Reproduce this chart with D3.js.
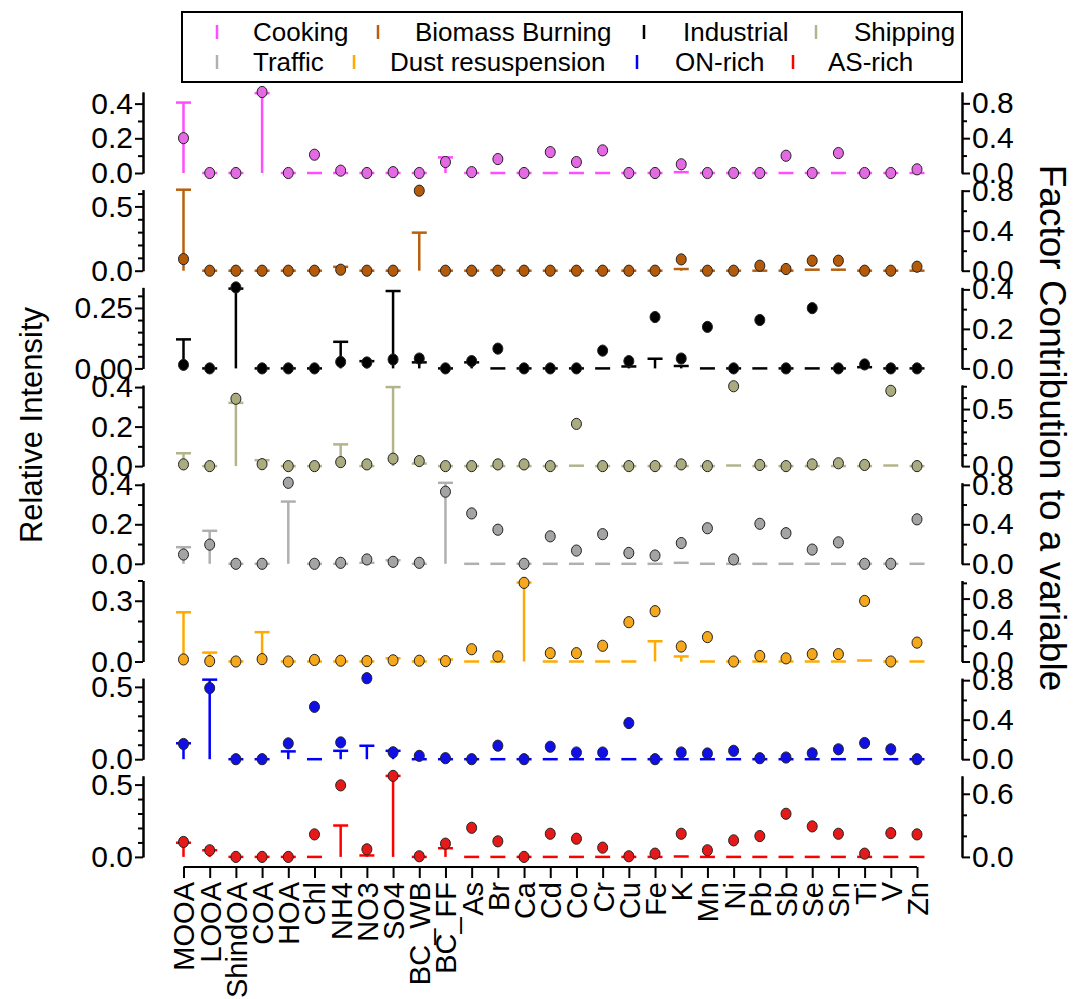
<!DOCTYPE html>
<html>
<head>
<meta charset="utf-8">
<script src="https://cdn.jsdelivr.net/npm/d3@7"></script>
<style>
  body { margin: 0; background: #fff; }
  svg { font-family: "Liberation Sans", Arial, sans-serif; }
</style>
</head>
<body>
<svg id="viz" width="1087" height="999"></svg>
<script>
const categories = ["MOOA","LOOA","ShindOA","COA","HOA","Chl","NH4","NO3","SO4","BC_WB","BC_FF",
  "As","Br","Ca","Cd","Co","Cr","Cu","Fe","K","Mn","Ni","Pb","Sb","Se","Sn","Ti","V","Zn"];
const factorNames = ["Cooking","Biomass Burning","Industrial","Shipping","Traffic","Dust resuspension","ON-rich","AS-rich"];

// relative intensity (left axis, drawn as capped sticks)
const cookingBar  = [0.406,0,0,0.46,0,0,0,0,0,0,0.09,0,0,0,0,0,0,0,0,0.005,0,0,0,0,0,0,0,0,0];
const biomassBar  = [0.63,0,0,0,0,0,0.03,0,0,0.296,0,0,0.005,0,0,0,0,0,0,0.013,0,0,0,0,0.008,0.008,0,0,0];
const industBar   = [0.12,0,0.33,0,0,0,0.11,0.03,0.32,0.025,0,0.025,0,0,0,0,0,0.008,0.04,0.01,0,0,0,0,0,0,0.005,0,0];
const shippingBar = [0.065,0,0.32,0.03,0,0,0.11,0,0.40,0.013,0,0,0,0,0,0.002,0,0,0,0,0,0.003,0,0,0,0,0,0.003,0];
const trafficBar  = [0.084,0.167,0,0,0.315,0,0,0.005,0.018,0,0.41,0,0,0,0,0,0,0,0,0.005,0,0,0,0,0,0,0,0,0];
const dustBar     = [0.243,0.044,0,0.145,0,0,0,0,0.016,0,0.01,0,0,0.39,0,0,0,0,0.10,0.025,0,0,0,0,0,0,0.005,0,0];
const onBar       = [0.11,0.55,0,0,0.054,0,0.058,0.093,0.058,0,0,0,0,0,0,0,0,0,0,0,0,0,0,0,0,0,0,0,0];
const asBar       = [0.098,0.046,0,0,0,0,0.217,0.01,0.56,0,0.06,0,0,0,0,0,0,0,0,0.003,0,0,0,0,0,0,0,0,0];

// factor contribution to a variable (right axis, drawn as dots)
const cookingDot  = [0.40,0,0,0.93,0,0.21,0.027,0,0.01,0,0.126,0.01,0.16,0,0.24,0.126,0.26,0,0,0.10,0,0,0,0.198,0,0.229,0,0,0.042];
const biomassDot  = [0.116,0,0,0,0,0,0.01,0,0,0.80,0,0,0,0,0,0,0,0,0,0.113,0,0,0.05,0.017,0.10,0.10,0,0,0.04];
const industDot   = [0.018,0,0.41,0,0,0,0.033,0.03,0.045,0.05,0,0.037,0.10,0,0,0,0.09,0.037,0.26,0.05,0.21,0,0.245,0,0.305,0,0.02,0,0];
const shippingDot = [0.015,0,0.59,0.017,0,0,0.035,0.015,0.065,0.044,0,0,0.015,0.015,0,0.37,0,0,0,0.015,0,0.70,0.01,0,0.015,0.025,0.01,0.66,0];
const trafficDot  = [0.094,0.194,0,0,0.82,0,0.01,0.044,0.02,0.01,0.73,0.51,0.345,0,0.278,0.134,0.30,0.11,0.084,0.21,0.36,0.044,0.405,0.31,0.144,0.217,0,0,0.45];
const dustDot     = [0.026,0.005,0,0.03,0,0.02,0.01,0.005,0.015,0.01,0.005,0.156,0.064,1.0,0.106,0.106,0.2,0.5,0.64,0.19,0.31,0,0.07,0.04,0.094,0.094,0.77,0,0.24];
const onDot       = [0.154,0.72,0,0,0.16,0.53,0.17,0.82,0.07,0.034,0.01,0,0.137,0,0.126,0.068,0.068,0.366,0,0.068,0.058,0.085,0.01,0.017,0.06,0.10,0.164,0.10,0];
const asDot       = [0.142,0.063,0,0,0,0.214,0.68,0.072,0.77,0.006,0.126,0.277,0.148,0,0.22,0.173,0.088,0.006,0.031,0.22,0.063,0.157,0.198,0.41,0.29,0.22,0.031,0.226,0.214];

const barSeries = [cookingBar, biomassBar, industBar, shippingBar, trafficBar, dustBar, onBar, asBar];
const dotSeries = [cookingDot, biomassDot, industDot, shippingDot, trafficDot, dustDot, onDot, asDot];

// axis extents and ticks per panel
const leftMax  = [0.467, 0.63, 0.335, 0.41, 0.41, 0.40, 0.56, 0.56];
const rightMax = [0.93, 0.81, 0.41, 0.71, 0.82, 1.03, 0.82, 0.77];
const leftMajor  = [[0,0.2,0.4],[0,0.5],[0,0.25],[0,0.2,0.4],[0,0.2,0.4],[0,0.3],[0,0.5],[0,0.5]];
const leftMinor  = [[0.1,0.3],[0.1,0.2,0.3,0.4,0.6],[0.05,0.1,0.15,0.2,0.3],[0.1,0.3],[0.1,0.3],[0.1,0.2,0.4],[0.1,0.2,0.3,0.4],[0.1,0.2,0.3,0.4]];
const rightMajor = [[0,0.4,0.8],[0,0.4,0.8],[0,0.2,0.4],[0,0.5],[0,0.4,0.8],[0,0.4,0.8],[0,0.4,0.8],[0,0.6]];
const rightMinor = [[0.2,0.6],[0.2,0.6],[0.1,0.3],[0.1,0.2,0.3,0.4,0.6,0.7],[0.2,0.6],[0.2,0.6,1.0],[0.2,0.6],[0.2,0.4]];
const leftFormat = [".1f",".1f",".2f",".1f",".1f",".1f",".1f",".1f"];

const lineColors = ["#ff4dff","#b8600f","#000000","#b4b48c","#b0b0b0","#ffaa00","#0000ff","#ff0000"];
const dotColors  = ["#e46ae4","#b35a0b","#000000","#abab80","#a4a4a4","#f5a81c","#1010e6","#e61919"];

const svg = d3.select("#viz");
const xLeft = 143, xRight = 962;
const panelH = 81;
const firstZero = 173, panelStep = 97.7;
const fontTick = 30;

const x = d3.scalePoint().domain(categories).range([183.5, 917]);

function styleAxis(g, fs) {
  g.select(".domain").attr("stroke", "#000").attr("stroke-width", 2);
  g.selectAll(".tick line").attr("stroke", "#000").attr("stroke-width", 2);
  g.selectAll(".tick text").attr("font-size", fs).attr("fill", "#000")
    .attr("font-family", "Liberation Sans, Arial, sans-serif");
}

factorNames.forEach((name, i) => {
  const zero = firstZero + i * panelStep;
  const yL = d3.scaleLinear().domain([0, leftMax[i]]).range([zero, zero - panelH]);
  const yR = d3.scaleLinear().domain([0, rightMax[i]]).range([zero, zero - panelH]);
  const g = svg.append("g");

  // left axis
  g.append("g").attr("transform", `translate(${xLeft},0)`)
    .call(d3.axisLeft(yL).tickValues(leftMinor[i]).tickSize(5).tickSizeOuter(0).tickFormat(""))
    .call(a => styleAxis(a, fontTick));
  g.append("g").attr("transform", `translate(${xLeft},0)`)
    .call(d3.axisLeft(yL).tickValues(leftMajor[i]).tickSize(8).tickSizeOuter(0).tickPadding(2)
      .tickFormat(d3.format(leftFormat[i])))
    .call(a => styleAxis(a, fontTick));

  // right axis
  g.append("g").attr("transform", `translate(${xRight},0)`)
    .call(d3.axisRight(yR).tickValues(rightMinor[i]).tickSize(5).tickSizeOuter(0).tickFormat(""))
    .call(a => styleAxis(a, fontTick));
  g.append("g").attr("transform", `translate(${xRight},0)`)
    .call(d3.axisRight(yR).tickValues(rightMajor[i]).tickSize(8).tickSizeOuter(0).tickPadding(2)
      .tickFormat(d3.format(".1f")))
    .call(a => styleAxis(a, fontTick));

  const bars = barSeries[i];
  const dots = dotSeries[i];

  // sticks with caps
  g.selectAll(".stick").data(bars).enter().append("line")
    .attr("class", "stick")
    .attr("x1", (d, j) => x(categories[j])).attr("x2", (d, j) => x(categories[j]))
    .attr("y1", yL(0)).attr("y2", d => yL(d))
    .attr("stroke", lineColors[i]).attr("stroke-width", 2.5);
  g.selectAll(".cap").data(bars).enter().append("line")
    .attr("class", "cap")
    .attr("x1", (d, j) => x(categories[j]) - 7.5).attr("x2", (d, j) => x(categories[j]) + 7.5)
    .attr("y1", d => yL(d)).attr("y2", d => yL(d))
    .attr("stroke", lineColors[i]).attr("stroke-width", 2.5);

  // dots
  g.selectAll(".dot").data(dots).enter().append("ellipse")
    .attr("class", "dot")
    .attr("cx", (d, j) => x(categories[j]))
    .attr("cy", d => yR(d))
    .attr("rx", 5).attr("ry", 5.6)
    .attr("fill", dotColors[i]).attr("stroke", "#222").attr("stroke-width", 1);
});

// category axis
const xAxisY = 867;
svg.append("g").attr("transform", `translate(0,${xAxisY})`)
  .call(d3.axisBottom(x).tickSize(11).tickSizeOuter(0))
  .call(a => {
    styleAxis(a, 29);
    a.select(".domain").attr("d", `M${x.range()[0]},0H${x.range()[1]}`);
    a.selectAll(".tick text")
      .attr("transform", "rotate(-90)")
      .attr("x", -15).attr("y", 0).attr("dy", "0.36em")
      .style("text-anchor", "end");
  });

// axis titles
svg.append("text")
  .attr("transform", "translate(42,425) rotate(-90)")
  .attr("text-anchor", "middle").attr("font-size", 31)
  .text("Relative Intensity");
svg.append("text")
  .attr("transform", "translate(1040,428) rotate(90)")
  .attr("text-anchor", "middle").attr("font-size", 37)
  .text("Factor Contribution to a variable");

// legend
const legend = svg.append("g");
legend.append("rect")
  .attr("x", 182).attr("y", 12).attr("width", 780).attr("height", 70)
  .attr("fill", "#fff").attr("stroke", "#000").attr("stroke-width", 2);
const legendMarkX = [217, 378, 644, 816, 217, 354, 637, 793];
const legendTextX = [253, 415, 683, 854, 253, 390, 675, 828];
const legendRowY  = [32, 32, 32, 32, 62, 62, 62, 62];
factorNames.forEach((name, i) => {
  legend.append("line")
    .attr("x1", legendMarkX[i]).attr("x2", legendMarkX[i])
    .attr("y1", legendRowY[i] - 7).attr("y2", legendRowY[i] + 7)
    .attr("stroke", lineColors[i]).attr("stroke-width", 2.5);
  legend.append("text")
    .attr("x", legendTextX[i]).attr("y", legendRowY[i]).attr("dy", "0.35em")
    .attr("font-size", 26)
    .text(name);
});
</script>
</body>
</html>
